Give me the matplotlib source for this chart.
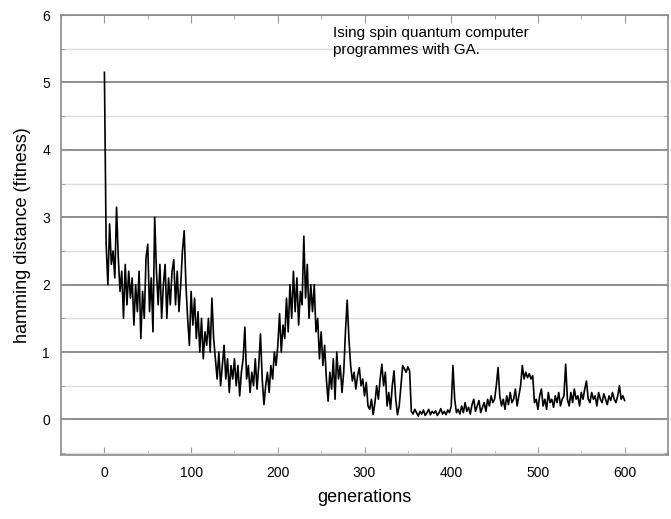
import matplotlib
matplotlib.use("Agg")
import matplotlib.pyplot as plt
from matplotlib.ticker import MultipleLocator
import numpy as np

plt.rcParams['font.family'] = ['Liberation Sans', 'DejaVu Sans']

# fitness (hamming distance) read every 2 generations
fitness = [
    5.15, 2.6, 2.0, 2.9, 2.3, 2.5, 2.1, 3.15, 2.4, 1.9, 2.2, 1.5, 2.3, 1.7, 2.2, 1.8, 2.1, 1.4, 2.0, 1.6, 2.2, 1.2, 1.9, 1.5, 2.4,
    2.6, 1.6, 2.1, 1.3, 3.0, 2.2, 1.7, 2.3, 1.5, 2.0, 2.3, 1.5, 2.1, 1.7, 2.2, 2.37, 1.7, 2.2, 1.6, 2.0, 2.5, 2.8, 2.0, 1.5, 1.1,
    1.9, 1.4, 1.8, 1.2, 1.6, 1.0, 1.5, 0.9, 1.3, 1.1, 1.5, 1.0, 1.8, 1.2, 0.9, 0.6, 1.0, 0.5, 0.8, 1.1, 0.6, 0.9, 0.4, 0.8, 0.6,
    0.9, 0.5, 0.8, 0.35, 0.7, 0.9, 1.37, 0.6, 0.8, 0.4, 0.7, 0.5, 0.9, 0.45, 0.8, 1.27, 0.6, 0.22, 0.5, 0.7, 0.4, 0.8, 0.6, 1.0, 0.8,
    1.1, 1.57, 1.0, 1.4, 1.2, 1.8, 1.3, 2.0, 1.5, 2.2, 1.6, 2.1, 1.4, 1.9, 1.7, 2.72, 1.8, 2.3, 1.5, 2.0, 1.6, 2.0, 1.3, 1.5, 0.9,
    1.3, 0.8, 1.1, 0.6, 0.27, 0.7, 0.45, 0.9, 0.3, 1.0, 0.6, 0.8, 0.4, 0.7, 1.3, 1.77, 1.2, 0.8, 0.57, 0.7, 0.45, 0.65, 0.77, 0.5, 0.6,
    0.35, 0.55, 0.2, 0.15, 0.3, 0.07, 0.25, 0.5, 0.3, 0.6, 0.82, 0.5, 0.7, 0.2, 0.4, 0.15, 0.5, 0.72, 0.3, 0.07, 0.2, 0.5, 0.8, 0.75, 0.7,
    0.78, 0.72, 0.12, 0.08, 0.15, 0.1, 0.05, 0.12, 0.08, 0.14, 0.06, 0.1, 0.15, 0.07, 0.12, 0.09, 0.13, 0.06, 0.1, 0.16, 0.08, 0.12, 0.07, 0.14, 0.1,
    0.2, 0.8, 0.3, 0.1, 0.15, 0.08, 0.2, 0.1, 0.25, 0.12, 0.18, 0.08, 0.22, 0.3, 0.12, 0.2, 0.28, 0.1, 0.18, 0.25, 0.12, 0.3, 0.2, 0.35, 0.25,
    0.3, 0.5, 0.77, 0.35, 0.2, 0.3, 0.15, 0.35, 0.22, 0.4, 0.25, 0.3, 0.45, 0.2, 0.35, 0.5, 0.8, 0.6, 0.7, 0.62, 0.68, 0.6, 0.65, 0.25, 0.3,
    0.15, 0.35, 0.45, 0.2, 0.3, 0.15, 0.4, 0.25, 0.3, 0.18, 0.35, 0.25, 0.4, 0.2, 0.3, 0.35, 0.82, 0.3, 0.2, 0.4, 0.25, 0.45, 0.3, 0.35, 0.2,
    0.4, 0.3, 0.45, 0.57, 0.3, 0.25, 0.4, 0.3, 0.35, 0.2, 0.4, 0.3, 0.25, 0.38, 0.3, 0.22, 0.35, 0.28, 0.4, 0.3, 0.25, 0.35, 0.5, 0.3, 0.35,
    0.28,
]
generations = np.arange(0, 2 * len(fitness), 2)

xticks = [0, 100, 200, 300, 400, 500, 600]
yticks = [0, 1, 2, 3, 4, 5, 6]
note = "Ising spin quantum computer\nprogrammes with GA."

fig = plt.figure(figsize=(6.71, 5.19), dpi=100)
ax = fig.add_axes([0.091, 0.123, 0.9045, 0.848])

ax.plot(generations, fitness, color='black', lw=1.2)

ax.set_xlim(-50, 650)
ax.set_ylim(-0.53, 6)
ax.set_xticks(xticks)
ax.set_yticks(yticks)
ax.xaxis.set_minor_locator(MultipleLocator(50))
ax.yaxis.set_minor_locator(MultipleLocator(0.5))

ax.grid(which='major', axis='y', color='#8c8c8c', lw=1.4)
ax.grid(which='minor', axis='y', color='#dddddd', lw=1.0)
ax.set_axisbelow(True)

for s in ax.spines.values():
    s.set_color('#8c8c8c')
    s.set_linewidth(1.2)
ax.tick_params(which='both', direction='in', top=True, right=True, color='#999999',
               labelsize=10, pad=8)
ax.tick_params(which='major', length=6)
ax.tick_params(which='minor', length=3)

ax.set_xlabel('generations', fontsize=13, labelpad=6)
ax.set_ylabel('hamming distance (fitness)', fontsize=13, labelpad=8)

ax.text(0.448, 0.975, note, transform=ax.transAxes, va='top', ha='left',
        fontsize=11, linespacing=1.3)

fig.savefig('out.png', dpi=100)
